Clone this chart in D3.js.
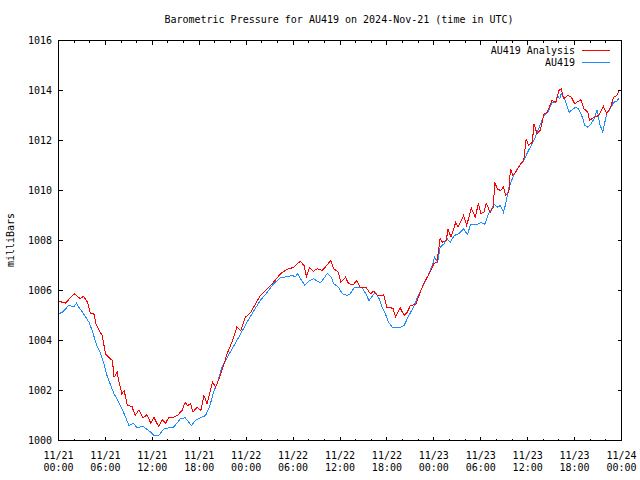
<!DOCTYPE html>
<html><head><meta charset="utf-8">
<script src="https://cdn.jsdelivr.net/npm/d3@7"></script>
<style>
body{margin:0;background:#fff;}
svg{display:block;}
text{font-family:"DejaVu Sans Mono",monospace;font-size:10px;fill:#000;}
</style></head>
<body>
<svg id="chart" width="640" height="480"></svg>
<script>
const titleText = "Barometric Pressure for AU419 on 2024-Nov-21 (time in UTC)";
const yLabel = "milliBars";
const seriesNames = ["AU419 Analysis", "AU419"];
const seriesColors = ["#ff0000", "#1e8cff"];
const yTicks = [1000, 1002, 1004, 1006, 1008, 1010, 1012, 1014, 1016];
const startTime = Date.UTC(2024, 10, 21, 0, 0);
const endTime = Date.UTC(2024, 10, 24, 0, 0);

// hours since 2024-11-21 00:00 UTC
const analysisHours = [0,0.9,1.5,2.0,2.8,3.2,3.7,4.1,4.5,4.8,5.2,5.6,6.0,6.4,6.9,7.1,7.5,7.7,8.1,8.4,8.8,9.4,9.8,10.3,10.8,11.3,11.8,12.2,12.8,13.3,13.7,14.1,14.7,15.2,15.8,16.2,16.5,16.9,17.2,17.7,18.2,18.6,19.0,19.7,20.1,20.7,21.1,21.6,22.2,22.8,23.3,23.9,24.6,25.2,25.8,26.7,27.5,28.4,29.2,30.1,30.9,31.4,31.7,32.1,32.6,33.1,33.7,34.1,34.8,35.2,35.8,36.1,36.7,37.1,37.7,38.1,38.6,39.3,39.9,40.3,40.8,41.2,41.6,42.0,42.5,42.8,43.1,43.7,44.2,44.6,45.0,45.7,46.1,46.7,47.4,48.0,48.4,48.8,49.1,49.6,49.8,50.2,50.8,51.1,51.8,52.2,52.8,53.3,53.7,54.0,54.4,54.7,55.2,55.6,55.8,56.1,56.5,56.9,57.2,57.6,57.8,58.1,58.6,59.1,59.5,59.8,60.1,60.6,60.8,61.2,61.6,62.1,62.5,63.1,63.6,64.0,64.3,64.6,65.1,65.6,66.0,66.8,67.2,67.7,67.9,68.5,69.1,69.7,70.1,70.6,71.0,71.4,71.7];
const analysisValues = [1005.57,1005.5,1005.7,1005.87,1005.67,1005.77,1005.53,1005.07,1005.1,1004.67,1004.4,1004.2,1003.47,1003.33,1003.2,1002.53,1002.73,1002.4,1001.87,1002.0,1001.4,1001.36,1001.0,1001.23,1000.9,1001.03,1000.7,1000.93,1000.56,1000.83,1000.69,1000.93,1000.93,1001.0,1001.2,1001.53,1001.4,1001.47,1001.13,1001.33,1001.2,1001.8,1001.47,1002.33,1002.13,1002.6,1003.0,1003.5,1003.95,1004.53,1004.4,1004.93,1005.13,1005.47,1005.8,1006.07,1006.33,1006.67,1006.84,1006.93,1007.17,1007.0,1006.56,1006.93,1006.77,1006.87,1006.8,1006.93,1007.2,1006.87,1006.73,1006.33,1006.53,1006.27,1006.23,1006.4,1006.13,1006.13,1005.87,1005.97,1005.8,1005.8,1005.83,1005.33,1005.31,1005.27,1004.93,1005.3,1005.0,1005.13,1005.4,1005.44,1005.8,1006.27,1006.67,1007.07,1007.13,1008.07,1007.93,1008.0,1008.47,1008.13,1008.73,1008.53,1009.0,1008.6,1009.29,1008.93,1009.49,1009.07,1009.13,1009.49,1009.13,1009.33,1010.33,1010.07,1010.0,1010.13,1009.8,1009.93,1010.87,1010.6,1010.8,1011.07,1011.2,1012.07,1011.8,1011.93,1012.67,1012.27,1012.4,1013.07,1013.13,1013.6,1013.53,1014.0,1014.07,1013.67,1013.8,1013.73,1013.47,1013.63,1013.27,1013.13,1012.8,1012.93,1013.0,1013.36,1013.07,1013.33,1013.73,1013.8,1014.0];

const obsHours = [0,0.5,1.3,2.0,2.3,2.6,3.2,3.9,4.3,4.9,5.4,5.8,6.2,6.6,7.1,7.7,8.1,8.6,9.0,9.6,10.0,10.9,11.8,12.2,12.8,13.5,14.1,14.7,15.6,16.2,17.0,17.5,18.2,18.8,19.3,19.9,20.3,20.9,21.6,22.4,23.3,24.1,25.0,25.8,26.7,27.5,28.4,29.2,29.9,30.3,30.6,30.9,31.5,32.0,32.6,33.1,33.5,33.9,34.4,34.9,35.2,35.8,36.3,36.9,37.3,37.8,38.3,38.8,39.3,39.7,40.1,40.5,41.0,41.4,41.8,42.2,42.7,43.5,44.2,44.8,45.4,46.1,46.5,47.1,47.8,48.1,48.5,48.8,49.3,49.7,50.1,50.6,51.2,51.8,52.3,52.7,53.6,54.0,54.5,55.0,55.5,55.7,56.1,56.5,56.9,57.2,57.6,58.2,58.8,59.5,60.1,60.8,61.4,62.1,62.7,63.1,63.6,63.8,64.1,64.3,64.8,65.3,65.7,66.1,66.5,67.0,67.3,67.7,68.1,68.5,68.9,69.2,69.6,70.1,70.5,71.0,71.4,71.7];
const obsValues = [1005.07,1005.13,1005.4,1005.36,1005.49,1005.33,1005.07,1004.73,1004.4,1003.8,1003.47,1003.07,1002.6,1002.27,1001.87,1001.53,1001.27,1000.93,1000.6,1000.69,1000.53,1000.55,1000.33,1000.2,1000.2,1000.47,1000.51,1000.53,1000.87,1000.91,1000.6,1000.8,1000.91,1001.0,1001.33,1002.0,1002.27,1002.93,1003.33,1003.78,1004.27,1004.73,1005.2,1005.6,1005.93,1006.27,1006.51,1006.55,1006.6,1006.55,1006.69,1006.5,1006.2,1006.37,1006.47,1006.37,1006.31,1006.47,1006.69,1006.53,1006.27,1006.13,1005.87,1005.8,1005.87,1006.11,1006.13,1006.13,1005.87,1005.6,1005.76,1005.93,1005.67,1005.33,1005.07,1004.73,1004.53,1004.5,1004.6,1005.0,1005.33,1005.87,1006.11,1006.47,1007.0,1007.33,1007.13,1007.73,1007.87,1008.07,1007.93,1008.2,1008.27,1008.47,1008.24,1008.64,1008.64,1008.73,1008.64,1009.07,1009.33,1009.47,1009.33,1009.4,1009.13,1009.47,1010.13,1010.6,1010.93,1011.2,1011.6,1012.0,1012.47,1013.0,1013.2,1013.53,1013.53,1013.8,1013.67,1013.87,1013.6,1013.13,1013.23,1013.33,1013.27,1012.93,1012.6,1012.53,1012.67,1012.87,1013.23,1012.67,1012.33,1013.07,1013.23,1013.53,1013.57,1013.71];

const svg = d3.select("#chart");
const L = 58.5, R = 621.5, T = 40.5, B = 440.5;
const x = d3.scaleUtc().domain([new Date(startTime), new Date(endTime)]).range([L, R]);
const y = d3.scaleLinear().domain([1000, 1016]).range([B, T]);
const toDate = h => new Date(startTime + h * 3600000);

// title
svg.append("text").attr("x", 339).attr("y", 23).attr("text-anchor", "middle").text(titleText);
// y label
svg.append("text").attr("transform", "translate(14,240) rotate(-90)").attr("text-anchor", "middle").text(yLabel);

// ticks
const g = svg.append("g").attr("shape-rendering", "crispEdges").attr("stroke", "#000").attr("stroke-width", 1);
const minorTicks = d3.utcHour.every(2).range(new Date(startTime), new Date(endTime + 1));
minorTicks.forEach(d => {
  const major = d.getUTCHours() % 6 === 0;
  const len = major ? 4 : 2;
  const xx = Math.round(x(d) - 0.5) + 0.5;
  g.append("line").attr("x1", xx).attr("x2", xx).attr("y1", B).attr("y2", B - len);
  g.append("line").attr("x1", xx).attr("x2", xx).attr("y1", T).attr("y2", T + len);
});
yTicks.forEach(v => {
  const yy = Math.round(y(v) - 0.5) + 0.5;
  g.append("line").attr("x1", L).attr("x2", L + 4).attr("y1", yy).attr("y2", yy);
  g.append("line").attr("x1", R).attr("x2", R - 4).attr("y1", yy).attr("y2", yy);
});

// y tick labels
svg.append("g").selectAll("text").data(yTicks).join("text")
  .attr("x", 52).attr("y", d => y(d) + 3.5).attr("text-anchor", "end").text(d => d);

// x tick labels
const majorTicks = x.ticks(d3.utcHour.every(6));
const fmtDate = d3.utcFormat("%m/%d"), fmtTime = d3.utcFormat("%H:%M");
const xl = svg.append("g").selectAll("text").data(majorTicks).join("text")
  .attr("text-anchor", "middle");
xl.append("tspan").attr("x", d => x(d)).attr("y", 458.5).text(fmtDate);
xl.append("tspan").attr("x", d => x(d)).attr("y", 470.5).text(fmtTime);

// lines
const line = d3.line().x(d => x(d[0])).y(d => y(d[1]));
const analysis = analysisHours.map((h, i) => [toDate(h), analysisValues[i]]);
const obs = obsHours.map((h, i) => [toDate(h), obsValues[i]]);
svg.append("path").datum(obs).attr("d", line).attr("fill", "none")
  .attr("stroke", seriesColors[1]).attr("stroke-width", 1).attr("shape-rendering", "crispEdges");
svg.append("path").datum(analysis).attr("d", line).attr("fill", "none")
  .attr("stroke", seriesColors[0]).attr("stroke-width", 1).attr("shape-rendering", "crispEdges");

// frame
svg.append("rect").attr("x", L).attr("y", T).attr("width", R - L).attr("height", B - T)
  .attr("fill", "none").attr("stroke", "#000").attr("shape-rendering", "crispEdges");

// legend
seriesNames.forEach((n, i) => {
  const ly = 50.5 + i * 12;
  svg.append("text").attr("x", 575).attr("y", ly + 3.5).attr("text-anchor", "end").text(n);
  svg.append("line").attr("x1", 582).attr("x2", 610).attr("y1", ly).attr("y2", ly)
    .attr("stroke", seriesColors[i]).attr("stroke-width", 1).attr("shape-rendering", "crispEdges");
});
</script>
</body></html>
